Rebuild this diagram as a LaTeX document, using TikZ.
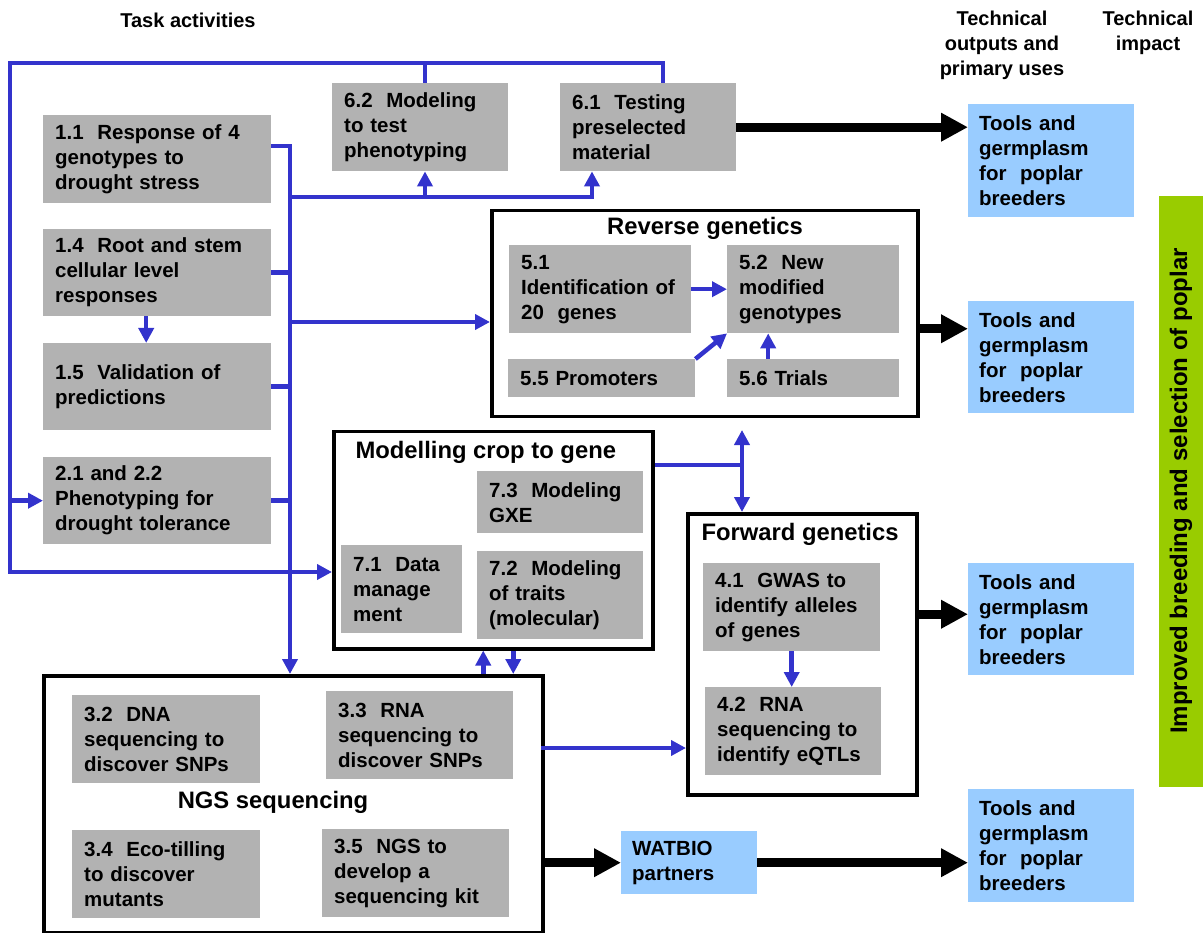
\documentclass[tikz,border=0pt]{standalone}
\usepackage{fontspec}
\setmainfont{Liberation Sans}
\usepackage{tikz}
\usetikzlibrary{arrows.meta}

\definecolor{boxgray}{RGB}{178,178,178}
\definecolor{linkblue}{RGB}{51,51,204}
\definecolor{outblue}{RGB}{153,204,255}
\definecolor{impgreen}{RGB}{153,204,0}

\tikzset{
    task/.style={fill=boxgray, anchor=north west, inner xsep=12pt, inner ysep=0pt, align=left},
    group/.style={draw, line width=3.5pt, fill=white, anchor=north west, inner sep=0pt},
    output/.style={fill=outblue, anchor=north west, inner xsep=11pt, inner ysep=0pt, align=left},
    title/.style={font=\bfseries\fontsize{23.8}{28}\selectfont},
    head/.style={align=center, font=\bfseries\fontsize{20}{25}\selectfont},
    link/.style={draw=linkblue, line width=4.5pt},
    linkarrow/.style={link, -{Triangle[width=15pt,length=15pt]}},
    linkboth/.style={link, {Triangle[width=15pt,length=15pt]}-{Triangle[width=15pt,length=15pt]}},
    bigarrow/.style={line width=9pt, -{Triangle[width=27pt,length=27pt]}},
}

\begin{document}
\begin{tikzpicture}[x=1pt, y=-1pt, every node/.style={font=\bfseries\fontsize{20.5}{25}\selectfont}]
    \useasboundingbox (0,0) rectangle (1203,933);

    % Headers
    \node[head] (hdtask) at (188,20) {Task activities};
    \node[head] (hdout) at (1002,45) {Technical\\outputs and\\primary uses};
    \node[head] (hdimp) at (1148,33) {Technical\\impact};

    % Task activities
    \node[task, text width=204pt, minimum height=88pt] (t11) at (43,115) {1.1~~Response of 4\\genotypes to\\drought stress};
    \node[task, text width=204pt, minimum height=87pt] (t14) at (43,229) {1.4~~Root and stem\\cellular level\\responses};
    \node[task, text width=204pt, minimum height=87pt, text depth=29pt] (t15) at (43,343) {1.5~~Validation of\\predictions};
    \node[task, text width=204pt, minimum height=87pt] (t21) at (43,457) {2.1 and 2.2\\Phenotyping for\\drought tolerance};

    \node[task, text width=152pt, minimum height=88pt] (t62) at (332,83) {6.2~~Modeling\\to test\\phenotyping};
    \node[task, text width=152pt, minimum height=88pt] (t61) at (560,83) {6.1~~Testing\\preselected\\material};

    % Reverse genetics
    \node[group, minimum width=426pt, minimum height=206pt] (rev) at (490,209) {};
    \node[title] (revtitle) at (705,228) {Reverse genetics};
    \node[task, text width=158pt, minimum height=88pt] (t51) at (509,245) {5.1\\Identification of\\20~~genes};
    \node[task, text width=148pt, minimum height=88pt] (t52) at (727,245) {5.2~~New\\modified\\genotypes};
    \node[task, text width=163pt, minimum height=38pt] (t55) at (508,359) {5.5 Promoters};
    \node[task, text width=148pt, minimum height=38pt] (t56) at (727,359) {5.6 Trials};

    % Modelling crop to gene
    \node[group, minimum width=319pt, minimum height=217pt] (mod) at (332,430) {};
    \node[title, anchor=west] (modtitle) at (352,452) {Modelling crop to gene};
    \node[task, text width=142pt, minimum height=62pt] (t73) at (477,471) {7.3~~Modeling\\GXE};
    \node[task, text width=97pt, minimum height=88pt] (t71) at (341,545) {7.1~~Data\\manage\\ment};
    \node[task, text width=142pt, minimum height=88pt] (t72) at (477,551) {7.2~~Modeling\\of traits\\(molecular)};

    % Forward genetics
    \node[group, minimum width=229pt, minimum height=281pt] (fwd) at (686,512) {};
    \node[title, anchor=west] (fwdtitle) at (698,534) {Forward genetics};
    \node[task, text width=153pt, minimum height=88pt] (t41) at (703,563) {4.1~~GWAS to\\identify alleles\\of genes};
    \node[task, text width=152pt, minimum height=88pt] (t42) at (705,687) {4.2~~RNA\\sequencing to\\identify eQTLs};

    % NGS sequencing
    \node[group, minimum width=499pt, minimum height=257pt] (ngs) at (42,674) {};
    \node[title] (ngstitle) at (273,802) {NGS sequencing};
    \node[task, text width=164pt, minimum height=88pt] (t32) at (72,695) {3.2~~DNA\\sequencing to\\discover SNPs};
    \node[task, text width=163pt, minimum height=88pt] (t33) at (326,691) {3.3~~RNA\\sequencing to\\discover SNPs};
    \node[task, text width=164pt, minimum height=88pt] (t34) at (72,830) {3.4~~Eco-tilling\\to discover\\mutants};
    \node[task, text width=163pt, minimum height=88pt] (t35) at (322,829) {3.5~~NGS to\\develop a\\sequencing kit};

    % Outputs
    \node[output, text width=114pt, minimum height=63pt] (wat) at (621,831) {WATBIO\\partners};
    \node[output, text width=144pt, minimum height=113pt] (out1) at (968,104) {Tools and\\germplasm\\for~~poplar\\breeders};
    \node[output, text width=144pt, minimum height=112pt] (out2) at (968,301) {Tools and\\germplasm\\for~~poplar\\breeders};
    \node[output, text width=144pt, minimum height=112pt] (out3) at (968,563) {Tools and\\germplasm\\for~~poplar\\breeders};
    \node[output, text width=144pt, minimum height=113pt] (out4) at (968,789) {Tools and\\germplasm\\for~~poplar\\breeders};

    % Impact
    \node[fill=impgreen, anchor=north west, minimum width=44pt, minimum height=591pt, inner sep=0pt] (imp) at (1159,196) {};
    \node[rotate=90, font=\bfseries\fontsize{24}{28}\selectfont] (imptext) at (1181,491) {Improved breeding and selection of poplar};

    % Bus from the task activities
    \coordinate (bus) at (290,146);
    \draw[linkarrow] (t11.east |- bus) -- (bus) -- (bus |- ngs.north);
    \draw[link] (t14.east) -- (t14.east -| bus);
    \draw[link] (t15.east) -- (t15.east -| bus);
    \draw[link] (t21.east) -- (t21.east -| bus);
    \draw[linkarrow] ([xshift=-11pt]t14.south) -- ([xshift=-11pt]t15.north);

    % Up to 6.1 and 6.2
    \coordinate (up62) at (425,197);
    \coordinate (up61) at (592,197);
    \draw[linkarrow] (bus |- up61) -- (up61) -- (up61 |- t61.south);
    \draw[linkarrow] (up62) -- (up62 |- t62.south);

    % Over to reverse genetics
    \coordinate (torev) at (290,322);
    \draw[linkarrow] (torev) -- (torev -| rev.west);

    % Loop back from 6.1 and 6.2
    \coordinate (fb62) at (425,63);
    \coordinate (fb61) at (663,63);
    \coordinate (loop) at (10,63);
    \coordinate (tomod) at (10,572);
    \draw[link] (fb62) -- (fb62 |- t62.north);
    \draw[linkarrow] (fb61 |- t61.north) -- (fb61) -- (loop) -- (tomod) -- (tomod -| mod.west);
    \draw[linkarrow] (loop |- t21.west) -- (t21.west);

    % Modelling to the genetics boxes
    \coordinate (gen) at (742,465);
    \coordinate (revlow) at (742,430);
    \draw[link] (mod.east |- gen) -- (gen);
    \draw[linkboth] (revlow) -- (revlow |- fwd.north);

    % Modelling and NGS
    \draw[linkarrow] ([xshift=-10pt]mod.south |- ngs.north) -- ([xshift=-10pt]mod.south);
    \draw[linkarrow] ([xshift=20pt]mod.south) -- ([xshift=20pt]mod.south |- ngs.north);
    \coordinate (tofwd) at (541,748);
    \draw[linkarrow] (tofwd) -- (tofwd -| fwd.west);

    % Inside reverse and forward genetics
    \draw[linkarrow] (t51.east) -- (t52.west);
    \draw[linkarrow] (t55.north east) -- (t52.south west);
    \draw[linkarrow] ([xshift=-45pt]t56.north) -- ([xshift=-45pt]t52.south);
    \draw[linkarrow] (t41.south) -- (t41.south |- t42.north);

    % Outputs
    \draw[bigarrow] (t61.east) -- (t61.east -| out1.west);
    \draw[bigarrow] ([yshift=-15pt]rev.east) -- ([yshift=-15pt]rev.east -| out2.west);
    \draw[bigarrow] ([yshift=40pt]fwd.east) -- ([yshift=40pt]fwd.east -| out3.west);
    \draw[bigarrow] (ngs.east |- wat.west) -- (wat.west);
    \draw[bigarrow] (wat.east) -- (wat.east -| out4.west);
\end{tikzpicture}
\end{document}
